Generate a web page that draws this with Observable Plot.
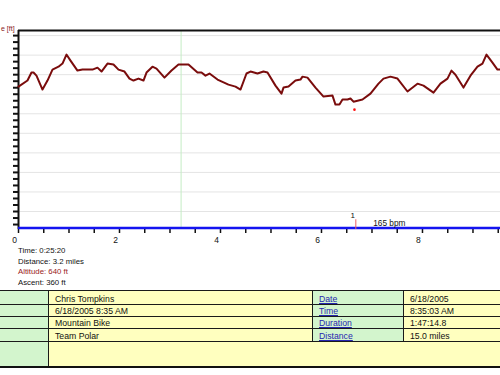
<!DOCTYPE html>
<html>
<head>
<meta charset="utf-8">
<script src="https://cdn.jsdelivr.net/npm/d3@7"></script>
<script src="https://cdn.jsdelivr.net/npm/@observablehq/plot@0.6"></script>
<style>
  html, body { margin: 0; padding: 0; background: #fff; width: 500px; height: 375px; overflow: hidden; position: relative; }
  body { font-family: "Liberation Sans", Arial, sans-serif; }
  #chart { position: absolute; left: 0; top: 0; }
  #summary { position: absolute; left: 18px; top: 246px; font-size: 7.8px; line-height: 10.5px; color: #111; }
  #info { position: absolute; left: -3px; top: 290px; border-collapse: collapse; table-layout: fixed; width: 530px; font-size: 8.7px; color: #111; }
  #info td { padding: 0 0 0 6px; vertical-align: bottom; line-height: 10px; border: 1px solid #1a1a1a; white-space: nowrap; overflow: hidden; }
  #info tr:first-child td { border-top: 2px solid #111; }
  #info tr:last-child td { border-bottom: 2px solid #111; }
  #info td.g { background: #d3f5cd; }
  #info td.y { background: #ffffbf; }
  #info td.lnk { color: #2626b0; text-decoration: underline; }
</style>
</head>
<body>
<div id="chart"></div>
<div id="summary"></div>
<table id="info"></table>
<script>
// ---- data ----
const distanceMi = [0,0.178,0.257,0.297,0.356,0.475,0.574,0.673,0.792,0.871,0.950,1.030,1.168,1.267,1.465,1.564,1.644,1.762,1.881,1.980,2.099,2.198,2.277,2.376,2.475,2.535,2.653,2.733,2.891,3.030,3.168,3.366,3.545,3.624,3.703,3.782,3.941,4.158,4.297,4.396,4.515,4.594,4.733,4.851,4.931,5.089,5.208,5.248,5.347,5.485,5.584,5.624,5.723,5.881,6.040,6.218,6.277,6.356,6.416,6.515,6.574,6.634,6.812,6.970,7.129,7.228,7.366,7.505,7.703,7.901,8.020,8.218,8.356,8.495,8.574,8.653,8.812,8.950,9.089,9.188,9.267,9.386,9.485,9.545];
const altitudeFt = [739,770,811,811,795,724,770,826,841,857,903,872,821,826,826,836,816,857,852,826,816,780,770,780,770,811,841,831,785,821,852,852,811,811,795,806,775,749,739,724,806,816,806,816,811,744,703,734,739,770,775,790,785,734,688,693,647,647,673,673,678,662,673,703,754,780,790,780,714,754,744,708,754,780,821,800,734,795,841,857,903,862,826,826];
const cursorMi = 3.22;          // green cursor line
const lapMi = 6.68;             // lap marker "1"
const lapLabel = "1";
const markerPoint = {x: 6.653, y: 621};
const hrLabel = "165 bpm";
const hrLabelMi = 7.024;
const yLabel = "e [ft]";        // visible part of the cropped axis title
const xDomain = [0, 9.545];
const yDomain = [8, 1026];
const gridFt = d3.range(100, 1001, 100);
const yTickFt = d3.range(1, 31).map(i => i * 100 / 3);
const xMinorTicks = d3.range(0, 9.51, 0.5);
const xMajorTicks = [0, 2, 4, 6, 8];

const summaryLines = ["Time: 0:25:20", "Distance: 3.2 miles", "Altitude: 640 ft", "Ascent: 360 ft"];
const summaryColors = ["#111", "#111", "#9a1a1a", "#111"];

const personCol = ["Chris Tompkins", "6/18/2005 8:35 AM", "Mountain Bike", "Team Polar"];
const fieldCol = ["Date", "Time", "Duration", "Distance"];
const valueCol = ["6/18/2005", "8:35:03 AM", "1:47:14.8", "15.0 miles"];

// ---- chart ----
const data = distanceMi.map((d, i) => ({x: d, y: altitudeFt[i]}));

const plot = Plot.plot({
  width: 500,
  height: 246,
  marginLeft: 18,
  marginRight: 0,
  marginTop: 30,
  marginBottom: 17,
  style: {fontFamily: "Liberation Sans, Arial, sans-serif", fontSize: "8.5px", background: "white", color: "#111"},
  x: {domain: xDomain, axis: null},
  y: {domain: yDomain, axis: null},
  marks: [
    Plot.ruleY(gridFt, {stroke: "#e4e4e4", strokeWidth: 1}),
    Plot.ruleX([cursorMi], {stroke: "#c4ecc4", strokeWidth: 1}),
    Plot.ruleY([yDomain[1]], {stroke: "#111", strokeWidth: 2}),
    Plot.ruleX([xDomain[0]], {stroke: "#111", strokeWidth: 2}),
    Plot.axisY({ticks: yTickFt, tickSize: 5, tickFormat: () => "", label: null, stroke: "#111", strokeWidth: 2}),
    Plot.axisX({ticks: xMinorTicks, tickSize: 4, tickFormat: () => "", label: null, stroke: "#111", strokeWidth: 1.5}),
    Plot.axisX({ticks: xMajorTicks, tickSize: 0, tickPadding: 7, dx: -4, label: null, tickFormat: d => String(d), fill: "#111", fontSize: 8.5}),
    Plot.line(data, {x: "x", y: "y", stroke: "#7a0c0c", strokeWidth: 2}),
    Plot.ruleY([yDomain[0]], {stroke: "#1414f0", strokeWidth: 2.5, dy: -1.5}),
    Plot.ruleX([lapMi], {y1: yDomain[0], y2: 58, stroke: "#f06060", strokeWidth: 1}),
    Plot.text([lapLabel], {x: lapMi, y: 58, dx: -3, dy: -4, text: d => d, fill: "#111", fontSize: 8}),
    Plot.text([hrLabel], {x: hrLabelMi, y: yDomain[0], dy: -6, text: d => d, textAnchor: "start", fill: "#111", fontSize: 8.3}),
    Plot.dot([markerPoint], {x: "x", y: "y", r: 1.3, fill: "#ff1010", stroke: null}),
    Plot.text([yLabel], {x: xDomain[0], y: yDomain[1], dx: -17.5, dy: -2, text: d => d, textAnchor: "start", fill: "#8b1c1c", fontSize: 7})
  ]
});
document.getElementById("chart").appendChild(plot);

// ---- summary text ----
const summary = document.getElementById("summary");
summaryLines.forEach((t, i) => {
  const div = document.createElement("div");
  div.textContent = t;
  div.style.color = summaryColors[i];
  summary.appendChild(div);
});

// ---- info table ----
const table = document.getElementById("info");
const colgroup = document.createElement("colgroup");
[51, 264, 91, 124].forEach(w => { const c = document.createElement("col"); c.style.width = w + "px"; colgroup.appendChild(c); });
table.appendChild(colgroup);
const rowHeights = [14, 12, 12, 13];
personCol.forEach((p, i) => {
  const tr = document.createElement("tr");
  tr.style.height = rowHeights[i] + "px";
  const cells = [["g", ""], ["y", p], ["g lnk", fieldCol[i]], ["y", valueCol[i]]];
  cells.forEach(([cls, txt]) => {
    const td = document.createElement("td");
    td.className = cls;
    td.textContent = txt;
    tr.appendChild(td);
  });
  table.appendChild(tr);
});
const last = document.createElement("tr");
last.style.height = "25px";
const tdA = document.createElement("td"); tdA.className = "g"; last.appendChild(tdA);
const tdB = document.createElement("td"); tdB.className = "y"; tdB.colSpan = 3; last.appendChild(tdB);
table.appendChild(last);
</script>
</body>
</html>
